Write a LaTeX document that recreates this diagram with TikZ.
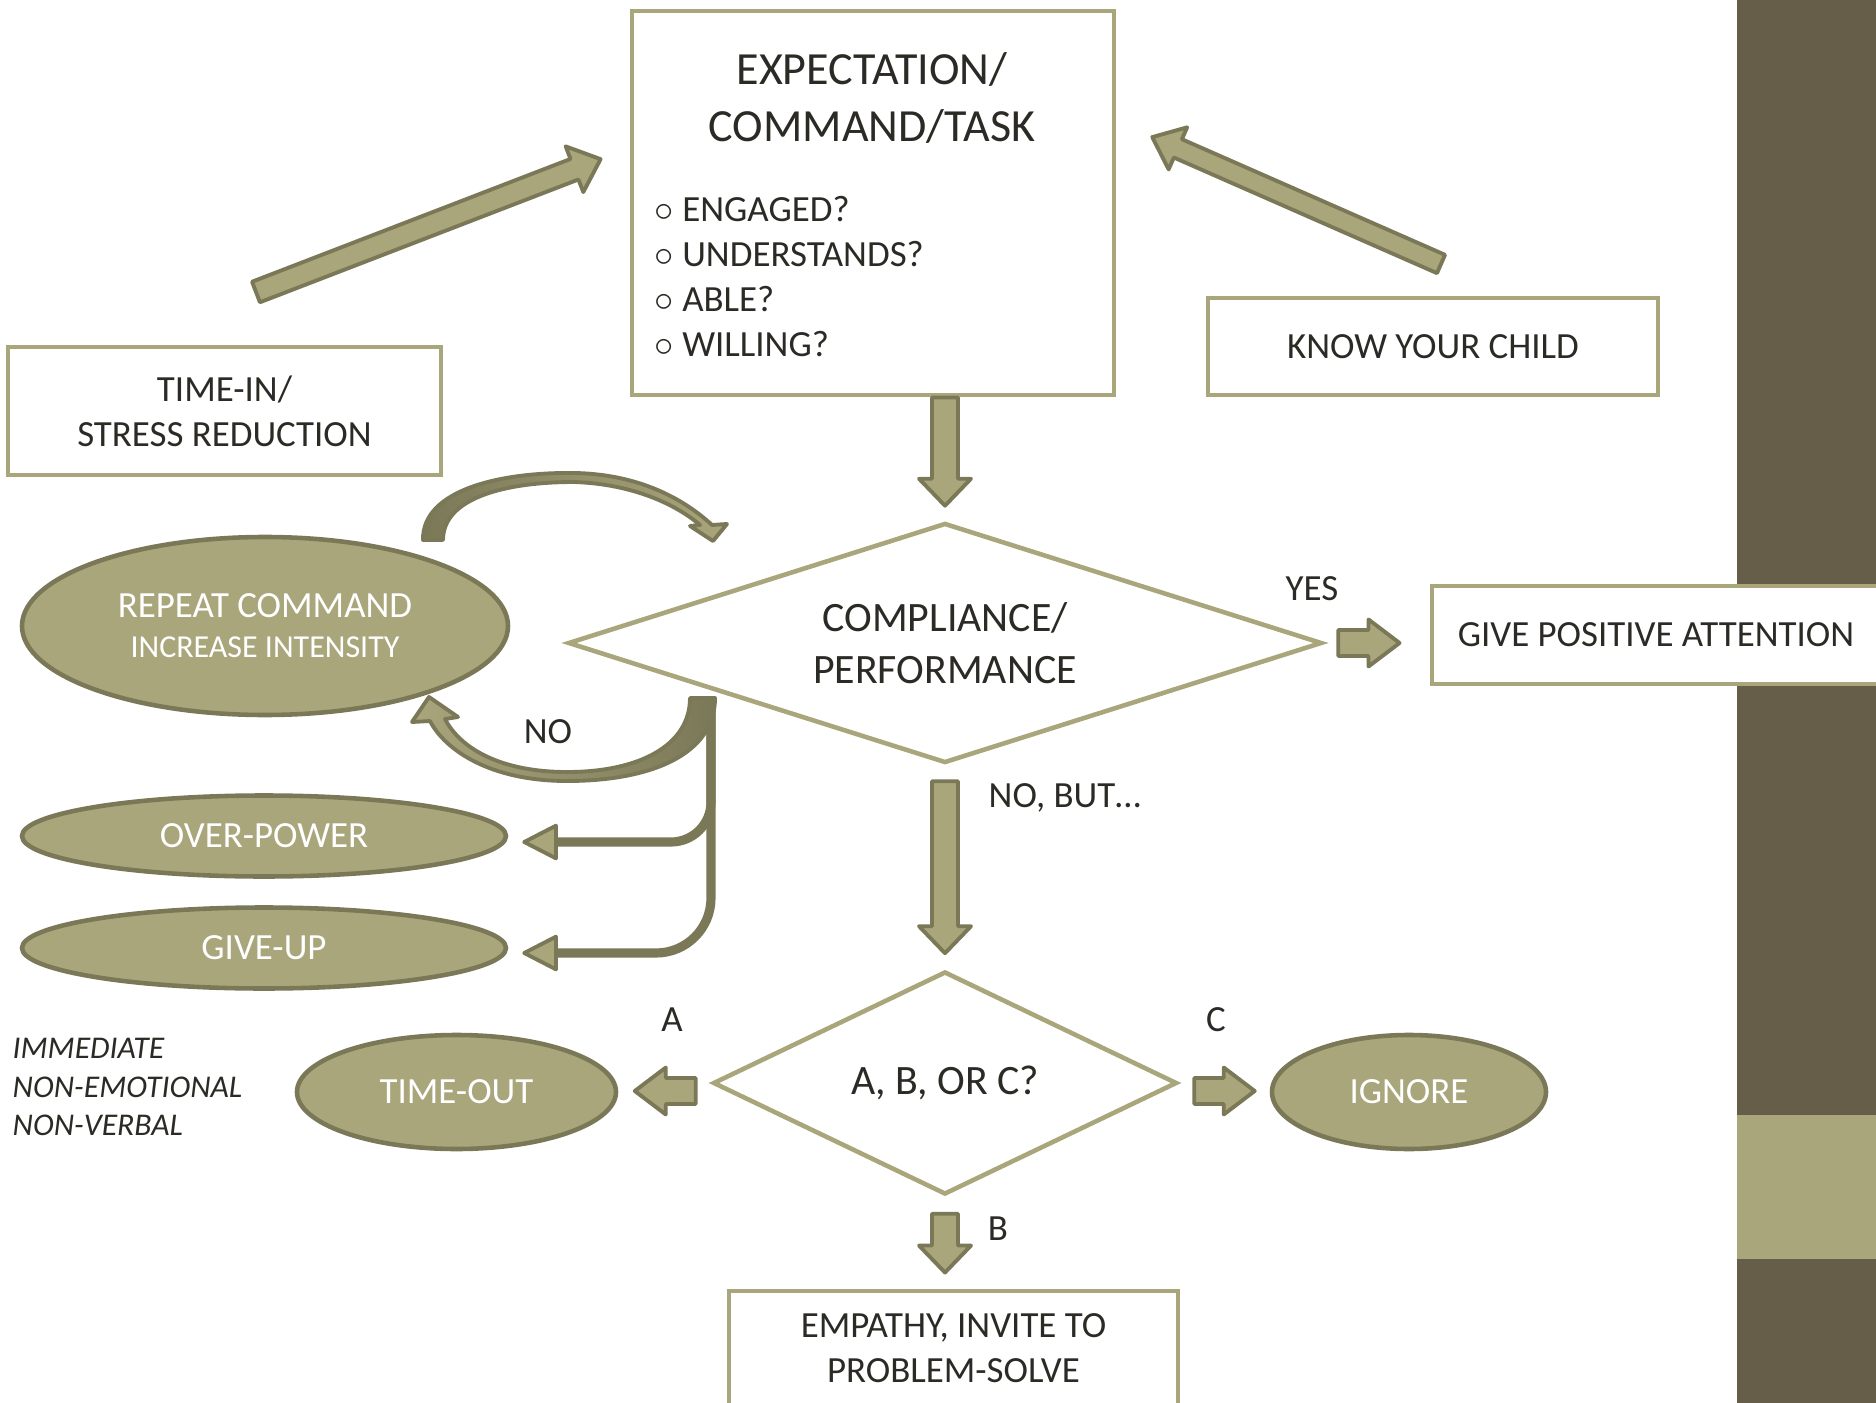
\documentclass[tikz,border=0pt]{standalone}
\usepackage{fontspec}
\setmainfont{Carlito}
\usetikzlibrary{shapes.geometric,calc,arrows.meta}

\definecolor{sage}{HTML}{A9A67C}
\definecolor{sagedark}{HTML}{7B7858}
\definecolor{bark}{HTML}{665E48}
\definecolor{ink}{HTML}{2B2A25}

\pgfdeclareradialshading{slidebg}{\pgfpoint{0bp}{0bp}}{color(0bp)=(white); color(40bp)=(white); color(72bp)=(black!11)}

\tikzset{
  fnt/.style={font=\fontsize{10.5}{12.8}\selectfont},
  box/.style={rectangle, draw=sage, fill=white, line width=1.4pt, text=ink, fnt, align=center, inner sep=0pt},
  decision/.style={diamond, draw=sage, fill=white, line width=1.3pt, text=ink, align=center, inner sep=0pt},
  pill/.style={ellipse, draw=sagedark, fill=sage, line width=1.3pt, text=white, fnt, align=center, inner sep=0pt},
  lbl/.style={text=ink, fnt, inner sep=0pt},
  blockarr/.style={draw=sagedark, fill=sage, line width=1.1pt, line join=round},
  curvearr/.style={draw=sagedark, line width=1.1pt, line join=round},
  branch/.style={draw=sagedark, line width=2.6pt, -{Triangle[length=3.8mm,width=3.8mm,fill=sage,line width=1.1pt,round]}}
}

% block arrow: tail, tip, half shaft, half head, head length
\newcommand{\blockarrow}[5]{%
  \path #1 coordinate (ba-tail) #2 coordinate (ba-tip);
  \path let \p1=($(ba-tip)-(ba-tail)$) in
    \pgfextra{\pgfmathsetmacro{\baang}{atan2(\y1,\x1)}\pgfmathsetmacro{\balen}{veclen(\x1,\y1)}%
      \global\let\baang\baang\global\let\balen\balen};
  \draw[blockarr, shift={(ba-tail)}, rotate=\baang]
    (0pt,-#3) -- ({\balen pt-#5},-#3) -- ({\balen pt-#5},-#4) -- ({\balen pt},0pt)
    -- ({\balen pt-#5},#4) -- ({\balen pt-#5},#3) -- (0pt,#3) -- cycle;}

\begin{document}
\begin{tikzpicture}[x=1cm,y=-1cm]
\clip (0,0) rectangle (18.76,14.03);

% slide background
\shade[shading=slidebg] (0,0) rectangle (17.37,14.03);
\fill[bark] (17.37,0) rectangle (18.76,14.03);
\fill[sage] (17.37,11.15) rectangle (18.76,12.59);

% free ends of the two long arrows
\coordinate (calmfrom) at (2.56,2.92);
\coordinate (calmto) at (6.01,1.59);
\coordinate (knowfrom) at (14.41,2.64);
\coordinate (knowto) at (11.52,1.37);
\blockarrow{(calmfrom)}{(calmto)}{0.11cm}{0.245cm}{0.28cm}
\blockarrow{(knowfrom)}{(knowto)}{0.10cm}{0.23cm}{0.28cm}

\node[box, minimum width=4.82cm, minimum height=3.84cm](task) at (8.73,2.03){};
\node[text=ink, align=center, font=\fontsize{13.1}{16.4}\selectfont](tasktitle) at (8.72,0.98){EXPECTATION/\\COMMAND/TASK};
\node[lbl, align=left, anchor=west](checks) at (6.54,2.77){$\circ$ ENGAGED?\\$\circ$ UNDERSTANDS?\\$\circ$ ABLE?\\$\circ$ WILLING?};

\node[box, minimum width=4.33cm, minimum height=1.28cm](timein) at (2.245,4.11){TIME-IN/\\STRESS REDUCTION};
\node[box, minimum width=4.50cm, minimum height=0.97cm](knowchild) at (14.33,3.465){KNOW YOUR CHILD};

\node[decision, aspect=3.1, minimum width=7.54cm, minimum height=2.40cm, font=\fontsize{11.9}{14.6}\selectfont](comply) at (9.45,6.43){COMPLIANCE/\\PERFORMANCE};
\node[box, minimum width=4.48cm, minimum height=0.98cm](givepos) at (16.56,6.35){GIVE POSITIVE ATTENTION};

\node[pill, minimum width=4.86cm, minimum height=1.78cm, font=\fontsize{10.5}{11.4}\selectfont](repeat) at (2.65,6.26){REPEAT COMMAND\\{\fontsize{9.1}{11.4}\selectfont INCREASE INTENSITY}};
\node[pill, minimum width=4.84cm, minimum height=0.81cm](overpower) at (2.64,8.36){OVER-POWER};
\node[pill, minimum width=4.84cm, minimum height=0.81cm](giveup) at (2.64,9.48){GIVE-UP};

\node[decision, aspect=2.1, minimum width=4.64cm, minimum height=2.23cm, font=\fontsize{11.9}{14.6}\selectfont](choice) at (9.45,10.83){A, B, OR C?};
\node[pill, minimum width=3.19cm, minimum height=1.14cm](timeout) at (4.565,10.92){TIME-OUT};
\node[pill, minimum width=2.74cm, minimum height=1.14cm](ignore) at (14.09,10.92){IGNORE};
\node[box, minimum width=4.49cm, minimum height=1.14cm](empathy) at (9.535,13.48){EMPATHY, INVITE TO\\PROBLEM-SOLVE};

\node[lbl](yes) at (13.12,5.89){YES};
\node[lbl](no) at (5.48,7.32){NO};
\node[lbl, anchor=west](nobut) at (9.88,7.98){NO, BUT…};
\node[lbl](lbla) at (6.72,10.20){A};
\node[lbl](lblc) at (12.16,10.20){C};
\node[lbl](lblb) at (9.98,12.29){B};
\node[lbl, anchor=west, align=left, font=\itshape\fontsize{9}{10.9}\selectfont](manner) at (0.12,10.87){IMMEDIATE\\NON-EMOTIONAL\\NON-VERBAL};

% straight block arrows
\blockarrow{(task.south -| comply.north)}{($(comply.north)+(0,-0.15)$)}{0.13cm}{0.26cm}{0.27cm}
\blockarrow{($(comply.south)+(0,0.16)$)}{($(choice.north)+(0,-0.16)$)}{0.13cm}{0.26cm}{0.27cm}
\blockarrow{($(choice.south)+(0,0.17)$)}{($(choice.south |- empathy.north)+(0,-0.16)$)}{0.13cm}{0.26cm}{0.27cm}
\blockarrow{($(comply.east)+(0.14,0)$)}{($(comply.east -| givepos.west)+(-0.30,0)$)}{0.13cm}{0.235cm}{0.31cm}
\blockarrow{($(choice.west)+(-0.15,0.08)$)}{($(choice.west -| timeout.east)+(0.165,0.08)$)}{0.13cm}{0.235cm}{0.31cm}
\blockarrow{($(choice.east)+(0.15,0.08)$)}{($(choice.east -| ignore.west)+(-0.15,0.08)$)}{0.13cm}{0.235cm}{0.31cm}

% no: the three reactions
\coordinate (split) at (7.11,6.98);
\draw[branch, rounded corners=4mm](split) |- ($(overpower.east)+(0.14,0.06)$);
\draw[branch, rounded corners=5.5mm](split) |- ($(giveup.east)+(0.14,0.05)$);

\draw[curvearr, left color=sage, right color=sagedark] (7.15,6.98) .. controls (7.15,7.55) and (6.50,7.81) .. (5.67,7.81)
  .. controls (4.90,7.81) and (4.45,7.50) .. (4.30,7.21) -- (4.12,7.22) -- (4.29,6.97) -- (4.58,7.17) -- (4.45,7.19)
  .. controls (4.60,7.48) and (5.00,7.72) .. (5.67,7.72) .. controls (6.40,7.72) and (6.90,7.45) .. (6.90,6.98) -- cycle;

% repeat goes back to the check
\draw[curvearr, left color=sagedark, right color=sage] (4.23,5.40) .. controls (4.22,4.90) and (5.00,4.72) .. (5.74,4.73)
  .. controls (6.40,4.74) and (6.85,5.00) .. (7.12,5.25) -- (7.27,5.24) -- (7.13,5.41) -- (6.90,5.26) -- (7.00,5.25)
  .. controls (6.78,5.06) and (6.35,4.84) .. (5.74,4.82) .. controls (5.05,4.82) and (4.43,4.98) .. (4.43,5.40) -- cycle;

\end{tikzpicture}
\end{document}
